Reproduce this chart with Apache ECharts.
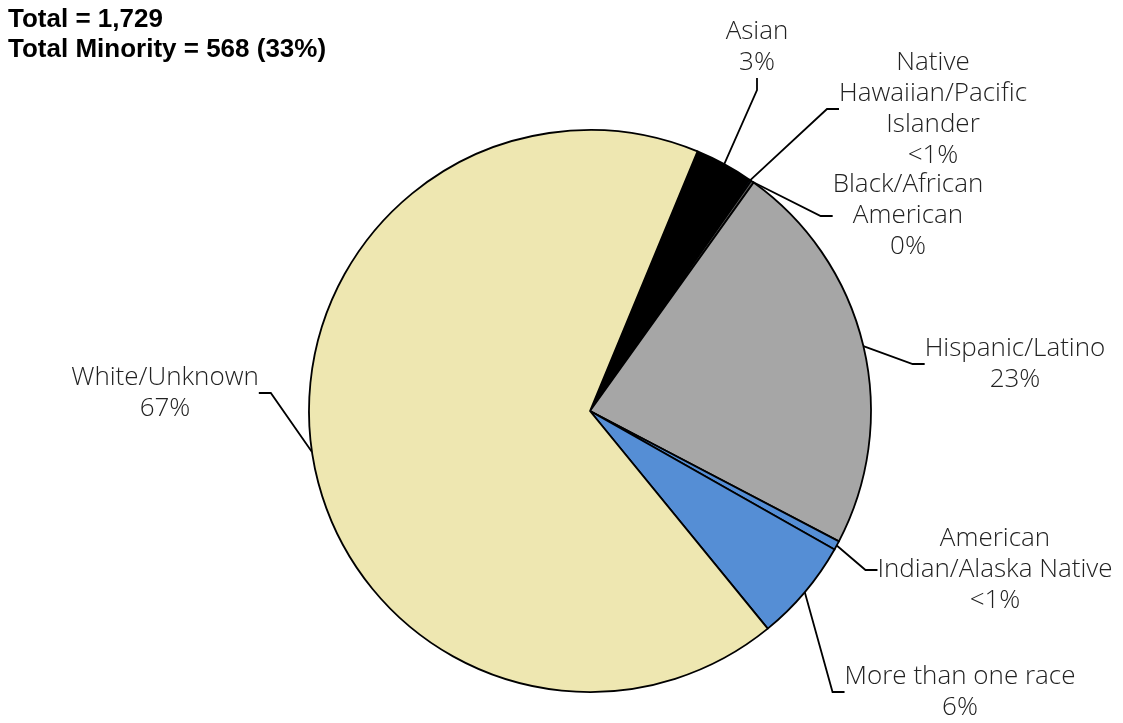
<!DOCTYPE html>
<html>
<head>
<meta charset="utf-8">
<script src="https://cdn.jsdelivr.net/npm/echarts@6/dist/echarts.min.js"></script>
<style>html,body{margin:0;padding:0;background:#fff;}#chart{width:1123px;height:723px;}</style>
</head>
<body>
<div id="chart"></div>
<script>
const categories = ['Asian', 'Native\nHawaiian/Pacific\nIslander', 'Black/African\nAmerican', 'Hispanic/Latino', 'American\nIndian/Alaska Native', 'More than one race', 'White/Unknown'];
const counts = [58, 2, 3, 394, 9, 102, 1161];
const pctLabels = ['3%', '<1%', '0%', '23%', '<1%', '6%', '67%'];
const colors = ['#000000', '#1F3864', '#595959', '#A6A6A6', '#558ED5', '#558ED5', '#EEE7B1'];
const titleLines = ['Total = 1,729', 'Total Minority = 568 (33%)'];

const labelPos = [
  [757, 47], [933, 109], [908, 216], [1015, 364], [995, 570], [960, 692], [165, 393]
];

const chart = echarts.init(document.getElementById('chart'), null, {renderer: 'canvas'});
chart.setOption({
  animation: false,
  backgroundColor: '#fff',
  title: {
    text: titleLines.join('\n'),
    left: 3, top: 0,
    textStyle: {fontFamily: 'Arial', fontWeight: 'bold', fontSize: 26, lineHeight: 30, color: '#000'}
  },
  series: [{
    type: 'pie',
    center: [590, 411],
    radius: [0, 281],
    startAngle: 67.5,
    clockwise: true,
    avoidLabelOverlap: false,
    data: categories.map((c, i) => ({name: c, value: counts[i], itemStyle: {color: colors[i]}})),
    itemStyle: {borderColor: '#000', borderWidth: 1.8},
    label: {
      show: true,
      formatter: p => p.name + '\n' + pctLabels[p.dataIndex],
      fontFamily: '"Open Sans", sans-serif',
      fontWeight: 300,
      fontSize: 26,
      lineHeight: 31,
      color: '#222',
      align: 'center'
    },
    labelLine: {show: true, length: 20, length2: 12, lineStyle: {color: '#000', width: 1.8}},
    labelLayout: p => ({x: labelPos[p.dataIndex][0], y: labelPos[p.dataIndex][1], align: 'center', verticalAlign: 'middle'}),
    emphasis: {disabled: true}
  }]
});
</script>
</body>
</html>
